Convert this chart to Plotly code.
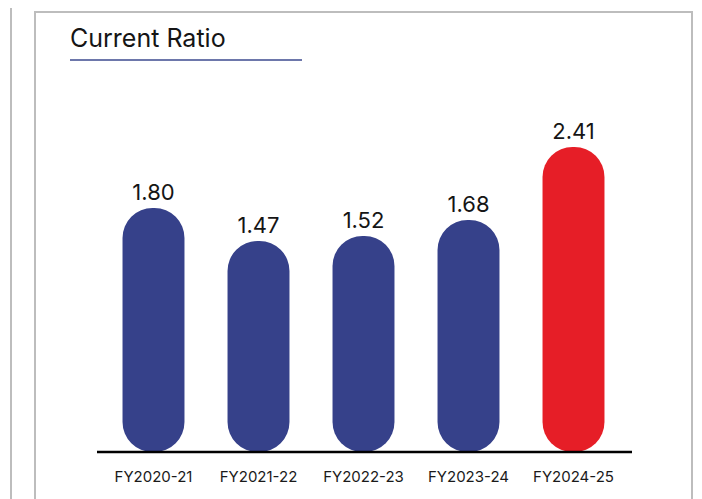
import plotly.graph_objects as go

# Current ratio by financial year
years = ["FY2020-21", "FY2021-22", "FY2022-23", "FY2023-24", "FY2024-25"]
ratios = [1.80, 1.47, 1.52, 1.68, 2.41]
labels = [f"{r:.2f}" for r in ratios]

NAVY = "#36418a"
RED = "#e61e27"
INK = "#151515"
FLOOR = -0.64  # axis starts below zero, like the source graphic

W, H = 702, 499
OFF = 8  # page body margin
colors = [RED if y == "FY2024-25" else NAVY for y in years]

fig = go.Figure()

# one pill per year: a bar with a base gets both ends rounded
fig.add_trace(go.Bar(
    x=years,
    y=[r - FLOOR for r in ratios],
    base=FLOOR,
    marker=dict(color=colors, cornerradius="50%", line=dict(width=0)),
    text=labels,
    textposition="outside",
    textfont=dict(size=22, color=INK, family="Inter, sans-serif"),
    cliponaxis=False,
    hovertemplate="%{x}: %{text}<extra></extra>",
))


def px_x(p):
    return (p - OFF) / W


def px_y(p):
    return 1 - (p - OFF) / H


fig.update_layout(
    width=W,
    height=H,
    bargap=0.41,
    showlegend=False,
    paper_bgcolor="white",
    plot_bgcolor="white",
    margin=dict(l=0, r=0, t=0, b=0),
    font=dict(family="Inter, sans-serif", color=INK),
    xaxis=dict(
        domain=[px_x(101), px_x(626)],
        showgrid=False, showline=False, zeroline=False,
        ticks="", tickfont=dict(size=15, color="#1a1a1a"),
        ticklabelstandoff=14,
    ),
    yaxis=dict(
        domain=[px_y(452), px_y(100)],
        range=[FLOOR, FLOOR + 3.52],
        visible=False,
    ),
    shapes=[
        # outer card border
        dict(type="rect", xref="paper", yref="paper",
             x0=px_x(35), x1=px_x(692), y0=-0.05, y1=px_y(12),
             line=dict(color="#bdbdbd", width=2), layer="below"),
        # left page rule
        dict(type="line", xref="paper", yref="paper",
             x0=px_x(11), x1=px_x(11), y0=-0.05, y1=1.05,
             line=dict(color="#bdbdbd", width=2)),
        # title underline
        dict(type="line", xref="paper", yref="paper",
             x0=px_x(70), x1=px_x(302), y0=px_y(60), y1=px_y(60),
             line=dict(color="#3d4a8f", width=1.5)),
        # baseline
        dict(type="line", xref="paper", yref="paper",
             x0=px_x(97), x1=px_x(632), y0=px_y(452), y1=px_y(452),
             line=dict(color="black", width=2.5)),
    ],
    annotations=[
        dict(text="Current Ratio", xref="paper", yref="paper",
             x=px_x(68), y=px_y(38), xanchor="left", yanchor="middle",
             showarrow=False, font=dict(size=25, color=INK)),
    ],
)

fig.write_html("out.html")
